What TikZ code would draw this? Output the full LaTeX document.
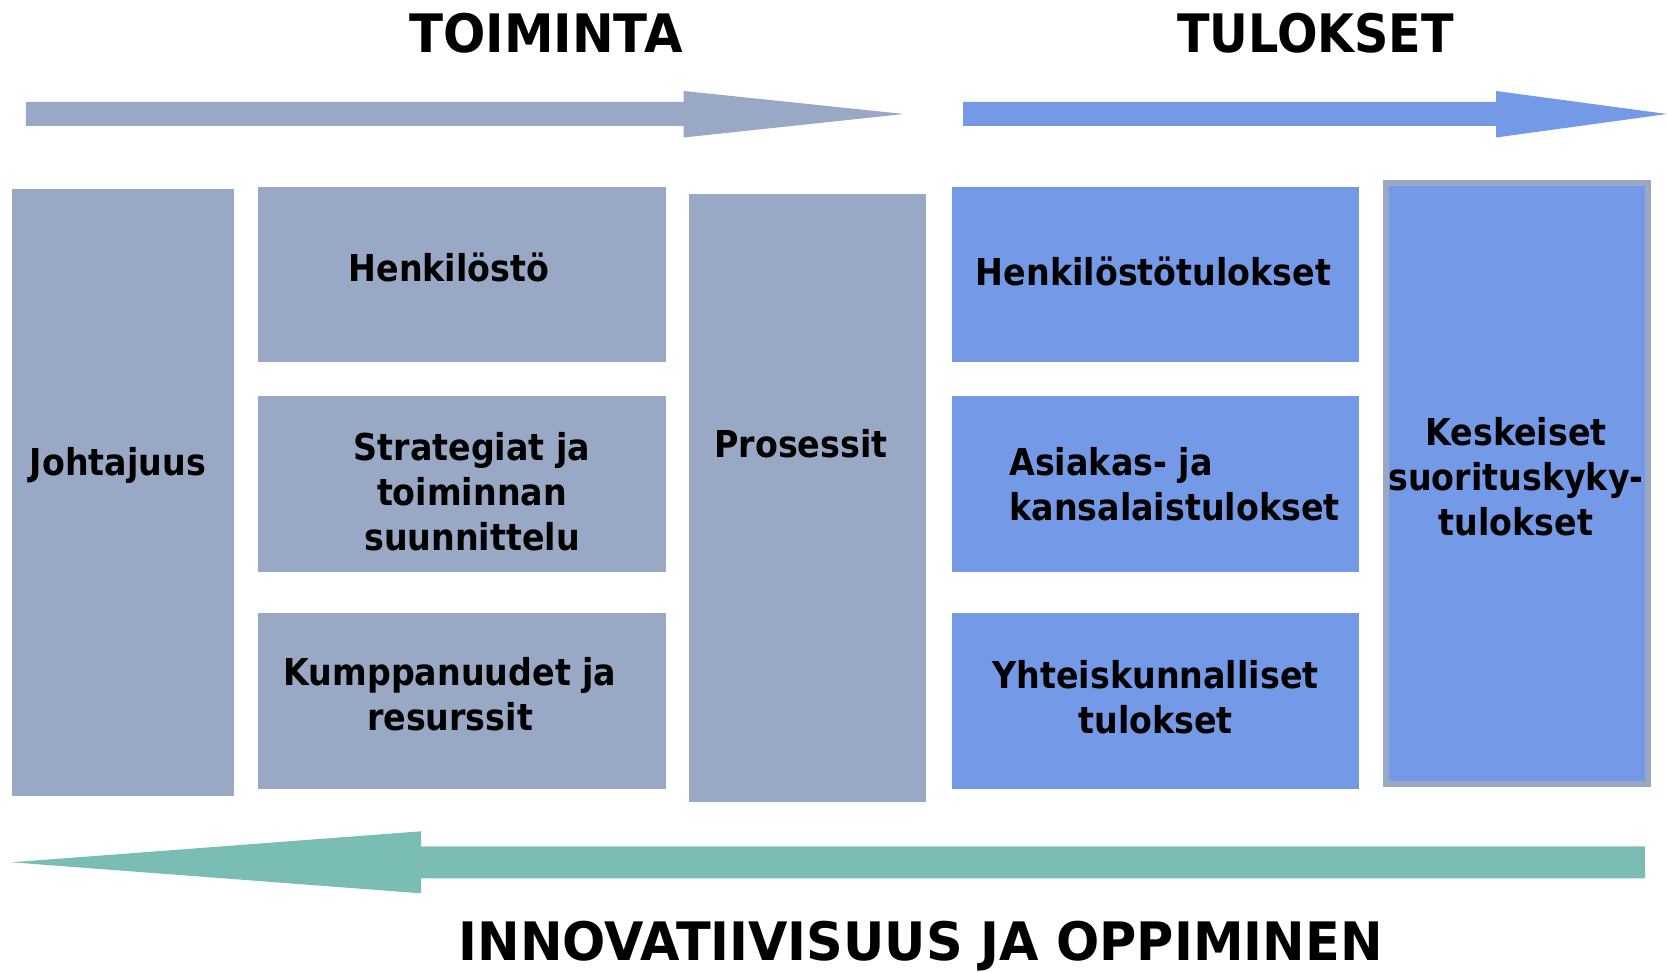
\documentclass[tikz,border=0pt]{standalone}
\usepackage{fontspec}
\setmainfont{DejaVu Sans}
\newfontfamily\boxfont{DejaVu Sans Bold}[FakeStretch=0.9]
\newfontfamily\ttlfont{DejaVu Sans Bold}[FakeStretch=0.94]
\newfontfamily\btmfont{DejaVu Sans Bold}[FakeStretch=0.96]
\usetikzlibrary{fit}
\definecolor{greyblue}{RGB}{153,168,197}
\definecolor{brightblue}{RGB}{116,153,230}
\definecolor{tealgreen}{RGB}{121,189,180}
\tikzset{
  gbox/.style={fill=greyblue, inner sep=0pt, outer sep=0pt},
  bbox/.style={fill=brightblue, inner sep=0pt, outer sep=0pt},
  lbl/.style={anchor=base, inner sep=0pt, text=black, font=\boxfont\fontsize{18.5pt}{22.5pt}\selectfont},
  ttl/.style={anchor=base, inner sep=0pt, text=black, font=\ttlfont\fontsize{26.5pt}{30pt}\selectfont},
  btm/.style={anchor=base, inner sep=0pt, text=black, font=\btmfont\fontsize{26.5pt}{30pt}\selectfont},
}
\begin{document}
\begin{tikzpicture}[x=0.5pt,y=-0.5pt]
\useasboundingbox (0,0) rectangle (1667,972);

% titles
\node[ttl] (toiminta) at (546,53) {TOIMINTA};
\node[ttl, font=\boxfont\fontsize{26.5pt}{30pt}\selectfont] (tulokset) at (1315.5,53) {TULOKSET};
\node[btm] (innov) at (920.7,961) {INNOVATIIVISUUS JA OPPIMINEN};

% top arrows
\coordinate (a1s) at (25.8,114);
\coordinate (a1t) at (903.8,114);
\fill[greyblue] (25.8,102) -- (683.7,102) -- (683.7,91) -- (a1t) -- (683.7,137.5) -- (683.7,126) -- (25.8,126) -- cycle;
\coordinate (a2s) at (963,114);
\coordinate (a2t) at (1667,114);
\fill[brightblue] (963,102) -- (1496,102) -- (1496,91) -- (a2t) -- (1496,137.5) -- (1496,126) -- (963,126) -- cycle;

% bottom arrow
\coordinate (a3s) at (1645,862.5);
\coordinate (a3t) at (11.5,862.3);
\fill[tealgreen] (1645,846.5) -- (421,846.5) -- (421,831.3) -- (a3t) -- (421,893.3) -- (421,878.5) -- (1645,878.5) -- cycle;

% boxes
\node[gbox, fit={(11.7,189) (234,796.3)}] (johta) {};
\node[gbox, fit={(258,187.5) (665.5,362.5)}] (henk) {};
\node[gbox, fit={(258,396.5) (665.5,572)}] (strat) {};
\node[gbox, fit={(258,613.4) (665.5,789)}] (kump) {};
\node[gbox, fit={(689,194.5) (926,801.6)}] (pros) {};
\node[bbox, fit={(951.5,187.5) (1358.6,362.5)}] (htul) {};
\node[bbox, fit={(951.5,396.5) (1358.6,572)}] (asiak) {};
\node[bbox, fit={(951.5,613.4) (1358.6,789)}] (yht) {};
\node[bbox, draw=greyblue, line width=3pt, fit={(1386,183) (1648,784)}] (kesk) {};

% labels
\node[lbl] (tjohta) at (118,476) {Johtajuus};
\node[lbl] (thenk) at (449,282) {Henkilöstö};
\node[lbl] (tstrat) at (472,461) {\begin{tabular}[t]{@{}c@{}}Strategiat ja\\toiminnan\\suunnittelu\end{tabular}};
\node[lbl] (tkump) at (450,686) {\begin{tabular}[t]{@{}c@{}}Kumppanuudet ja\\resurssit\end{tabular}};
\node[lbl] (tpros) at (801,458) {Prosessit};
\node[lbl] (thtul) at (1153.5,286) {Henkilöstötulokset};
\node[lbl, anchor=base west] (tasiak) at (1009,476) {\begin{tabular}[t]{@{}l@{}}Asiakas- ja\\kansalaistulokset\end{tabular}};
\node[lbl] (tyht) at (1155.6,689) {\begin{tabular}[t]{@{}c@{}}Yhteiskunnalliset\\tulokset\end{tabular}};
\node[lbl] (tkesk) at (1516,446) {\begin{tabular}[t]{@{}c@{}}Keskeiset\\suorituskyky-\\tulokset\end{tabular}};
\end{tikzpicture}
\end{document}
